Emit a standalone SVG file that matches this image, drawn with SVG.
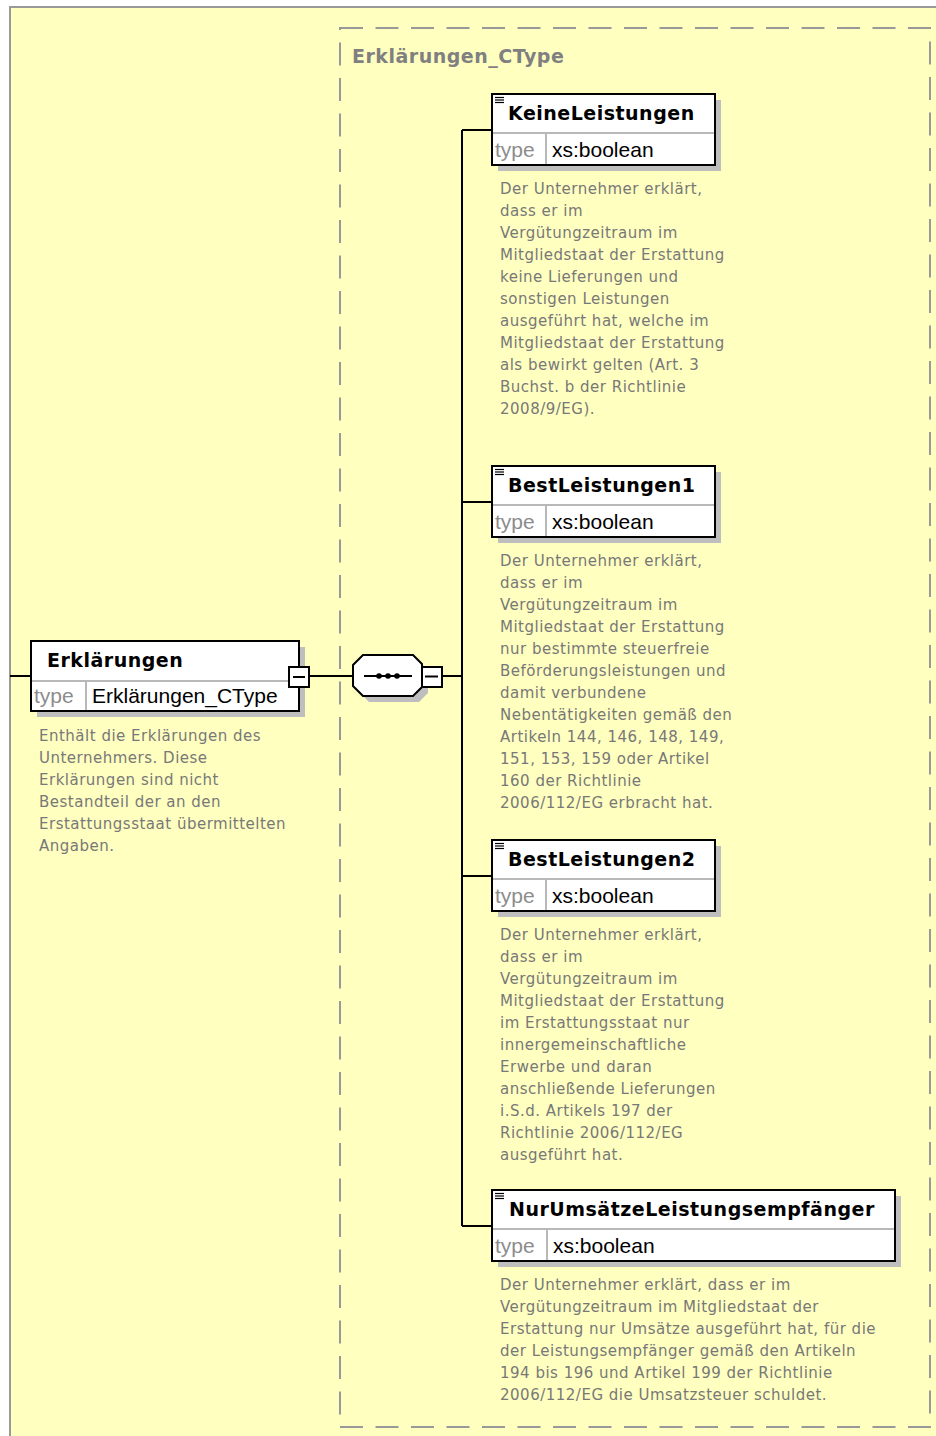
<svg xmlns="http://www.w3.org/2000/svg" width="936" height="1436" viewBox="0 0 936 1436">
  <style>
    .frame { fill: #FFFFC0; stroke: #999999; stroke-width: 2; }
    .ctype { fill: none; stroke: #999999; stroke-width: 2; stroke-dasharray: 23 12.5; }
    .ctitle { font-family: "DejaVu Sans", Verdana, sans-serif; font-weight: bold; font-size: 19px; letter-spacing: 0.5px; fill: #808080; }
    .shadow { fill: #BEBEBE; }
    .box { fill: #FFFFFF; stroke: #000000; stroke-width: 2; }
    .div { stroke: #A0A0A0; stroke-width: 1.5; fill: none; }
    .name { font-family: "DejaVu Sans", Verdana, sans-serif; font-weight: bold; font-size: 19px; letter-spacing: 0.5px; fill: #000000; }
    .tlabel { font-family: "Liberation Sans", Arial, sans-serif; font-size: 21px; fill: #8C8C8C; }
    .tval { font-family: "Liberation Sans", Arial, sans-serif; font-size: 21px; fill: #000000; }
    .doc { font-family: "DejaVu Sans", Verdana, sans-serif; font-size: 15px; letter-spacing: 0.5px; fill: #787878; }
    .wire { stroke: #000000; stroke-width: 2; fill: none; }
    .icon { stroke: #000000; stroke-width: 1.2; }
    .minus { fill: #FFFFFF; stroke: #000000; stroke-width: 2; }
    .dot { fill: #000000; }
  </style>
  <defs>
    <!-- "many lines" marker shown in the corner of child elements -->
    <g id="annot">
      <line class="icon" x1="0" y1="0.5" x2="9" y2="0.5"/>
      <line class="icon" x1="0" y1="3" x2="9" y2="3"/>
      <line class="icon" x1="0" y1="5.5" x2="9" y2="5.5"/>
    </g>
  </defs>

  <!-- page background -->
  <rect x="0" y="0" width="936" height="1436" fill="#FFFFFF"/>
  <rect class="frame" x="10" y="7" width="940" height="1445"/>

  <!-- complex type container -->
  <g id="ctype-Erklaerungen_CType">
    <rect class="ctype" x="340" y="28" width="590" height="1399"/>
    <text class="ctitle" x="352" y="63">Erklärungen_CType</text>
  </g>

  <!-- connectors -->
  <g id="connectors">
    <line class="wire" x1="10" y1="676" x2="31" y2="676"/>
    <line class="wire" x1="309" y1="676" x2="353" y2="676"/>
    <line class="wire" x1="442" y1="676" x2="462" y2="676"/>
    <line class="wire" x1="462" y1="130" x2="462" y2="1226"/>
    <line class="wire" x1="462" y1="130" x2="492" y2="130"/>
    <line class="wire" x1="462" y1="502" x2="492" y2="502"/>
    <line class="wire" x1="462" y1="876" x2="492" y2="876"/>
    <line class="wire" x1="462" y1="1226" x2="492" y2="1226"/>
  </g>

  <!-- root element -->
  <g id="node-Erklaerungen">
    <rect class="shadow" x="37" y="647" width="268" height="70"/>
    <rect class="box" x="31" y="641" width="268" height="70"/>
    <line class="div" x1="32" y1="681" x2="298" y2="681"/>
    <line class="div" x1="86" y1="682" x2="86" y2="710"/>
    <text class="name" x="47" y="667">Erklärungen</text>
    <text class="tlabel" x="34" y="703">type</text>
    <text class="tval" x="92" y="703">Erklärungen_CType</text>
    <rect class="minus" x="289" y="667" width="20" height="20"/>
    <line class="wire" x1="293" y1="677" x2="305" y2="677"/>
    <text class="doc">
      <tspan x="39" y="741">Enthält die Erklärungen des</tspan>
      <tspan x="39" y="763">Unternehmers. Diese</tspan>
      <tspan x="39" y="785">Erklärungen sind nicht</tspan>
      <tspan x="39" y="807">Bestandteil der an den</tspan>
      <tspan x="39" y="829">Erstattungsstaat übermittelten</tspan>
      <tspan x="39" y="851">Angaben.</tspan>
    </text>
  </g>

  <!-- sequence compositor -->
  <g id="node-sequence">
    <polygon class="shadow" points="369,661 419,661 428,670 428,693 419,702 369,702 359,692 359,671"/>
    <polygon class="box" points="363,655 413,655 422,664 422,687 413,696 363,696 353,686 353,665"/>
    <line class="wire" x1="364" y1="676" x2="412" y2="676"/>
    <circle class="dot" cx="379" cy="676" r="2.8"/>
    <circle class="dot" cx="388" cy="676" r="2.8"/>
    <circle class="dot" cx="397" cy="676" r="2.8"/>
    <rect class="minus" x="422" y="667" width="20" height="20"/>
    <line class="wire" x1="425" y1="676.5" x2="438" y2="676.5"/>
  </g>

  <!-- child: KeineLeistungen -->
  <g id="node-KeineLeistungen">
    <rect class="shadow" x="498" y="100" width="223" height="71"/>
    <rect class="box" x="492" y="94" width="223" height="71"/>
    <line class="div" x1="493" y1="133" x2="714" y2="133"/>
    <line class="div" x1="546" y1="134" x2="546" y2="164"/>
    <use href="#annot" x="495" y="97"/>
    <text class="name" x="508" y="120">KeineLeistungen</text>
    <text class="tlabel" x="495" y="157">type</text>
    <text class="tval" x="552" y="157">xs:boolean</text>
    <text class="doc">
      <tspan x="500" y="194">Der Unternehmer erklärt,</tspan>
      <tspan x="500" y="216">dass er im</tspan>
      <tspan x="500" y="238">Vergütungzeitraum im</tspan>
      <tspan x="500" y="260">Mitgliedstaat der Erstattung</tspan>
      <tspan x="500" y="282">keine Lieferungen und</tspan>
      <tspan x="500" y="304">sonstigen Leistungen</tspan>
      <tspan x="500" y="326">ausgeführt hat, welche im</tspan>
      <tspan x="500" y="348">Mitgliedstaat der Erstattung</tspan>
      <tspan x="500" y="370">als bewirkt gelten (Art. 3</tspan>
      <tspan x="500" y="392">Buchst. b der Richtlinie</tspan>
      <tspan x="500" y="414">2008/9/EG).</tspan>
    </text>
  </g>

  <!-- child: BestLeistungen1 -->
  <g id="node-BestLeistungen1">
    <rect class="shadow" x="498" y="472" width="223" height="71"/>
    <rect class="box" x="492" y="466" width="223" height="71"/>
    <line class="div" x1="493" y1="505" x2="714" y2="505"/>
    <line class="div" x1="546" y1="506" x2="546" y2="536"/>
    <use href="#annot" x="495" y="469"/>
    <text class="name" x="508" y="492">BestLeistungen1</text>
    <text class="tlabel" x="495" y="529">type</text>
    <text class="tval" x="552" y="529">xs:boolean</text>
    <text class="doc">
      <tspan x="500" y="566">Der Unternehmer erklärt,</tspan>
      <tspan x="500" y="588">dass er im</tspan>
      <tspan x="500" y="610">Vergütungzeitraum im</tspan>
      <tspan x="500" y="632">Mitgliedstaat der Erstattung</tspan>
      <tspan x="500" y="654">nur bestimmte steuerfreie</tspan>
      <tspan x="500" y="676">Beförderungsleistungen und</tspan>
      <tspan x="500" y="698">damit verbundene</tspan>
      <tspan x="500" y="720">Nebentätigkeiten gemäß den</tspan>
      <tspan x="500" y="742">Artikeln 144, 146, 148, 149,</tspan>
      <tspan x="500" y="764">151, 153, 159 oder Artikel</tspan>
      <tspan x="500" y="786">160 der Richtlinie</tspan>
      <tspan x="500" y="808">2006/112/EG erbracht hat.</tspan>
    </text>
  </g>

  <!-- child: BestLeistungen2 -->
  <g id="node-BestLeistungen2">
    <rect class="shadow" x="498" y="846" width="223" height="71"/>
    <rect class="box" x="492" y="840" width="223" height="71"/>
    <line class="div" x1="493" y1="879" x2="714" y2="879"/>
    <line class="div" x1="546" y1="880" x2="546" y2="910"/>
    <use href="#annot" x="495" y="843"/>
    <text class="name" x="508" y="866">BestLeistungen2</text>
    <text class="tlabel" x="495" y="903">type</text>
    <text class="tval" x="552" y="903">xs:boolean</text>
    <text class="doc">
      <tspan x="500" y="940">Der Unternehmer erklärt,</tspan>
      <tspan x="500" y="962">dass er im</tspan>
      <tspan x="500" y="984">Vergütungzeitraum im</tspan>
      <tspan x="500" y="1006">Mitgliedstaat der Erstattung</tspan>
      <tspan x="500" y="1028">im Erstattungsstaat nur</tspan>
      <tspan x="500" y="1050">innergemeinschaftliche</tspan>
      <tspan x="500" y="1072">Erwerbe und daran</tspan>
      <tspan x="500" y="1094">anschließende Lieferungen</tspan>
      <tspan x="500" y="1116">i.S.d. Artikels 197 der</tspan>
      <tspan x="500" y="1138">Richtlinie 2006/112/EG</tspan>
      <tspan x="500" y="1160">ausgeführt hat.</tspan>
    </text>
  </g>

  <!-- child: NurUmsätzeLeistungsempfänger -->
  <g id="node-NurUmsaetzeLeistungsempfaenger">
    <rect class="shadow" x="498" y="1196" width="403" height="71"/>
    <rect class="box" x="492" y="1190" width="403" height="71"/>
    <line class="div" x1="493" y1="1229" x2="894" y2="1229"/>
    <line class="div" x1="547" y1="1230" x2="547" y2="1260"/>
    <use href="#annot" x="495" y="1193"/>
    <text class="name" x="509" y="1216">NurUmsätzeLeistungsempfänger</text>
    <text class="tlabel" x="495" y="1253">type</text>
    <text class="tval" x="553" y="1253">xs:boolean</text>
    <text class="doc">
      <tspan x="500" y="1290">Der Unternehmer erklärt, dass er im</tspan>
      <tspan x="500" y="1312">Vergütungzeitraum im Mitgliedstaat der</tspan>
      <tspan x="500" y="1334">Erstattung nur Umsätze ausgeführt hat, für die</tspan>
      <tspan x="500" y="1356">der Leistungsempfänger gemäß den Artikeln</tspan>
      <tspan x="500" y="1378">194 bis 196 und Artikel 199 der Richtlinie</tspan>
      <tspan x="500" y="1400">2006/112/EG die Umsatzsteuer schuldet.</tspan>
    </text>
  </g>
</svg>
